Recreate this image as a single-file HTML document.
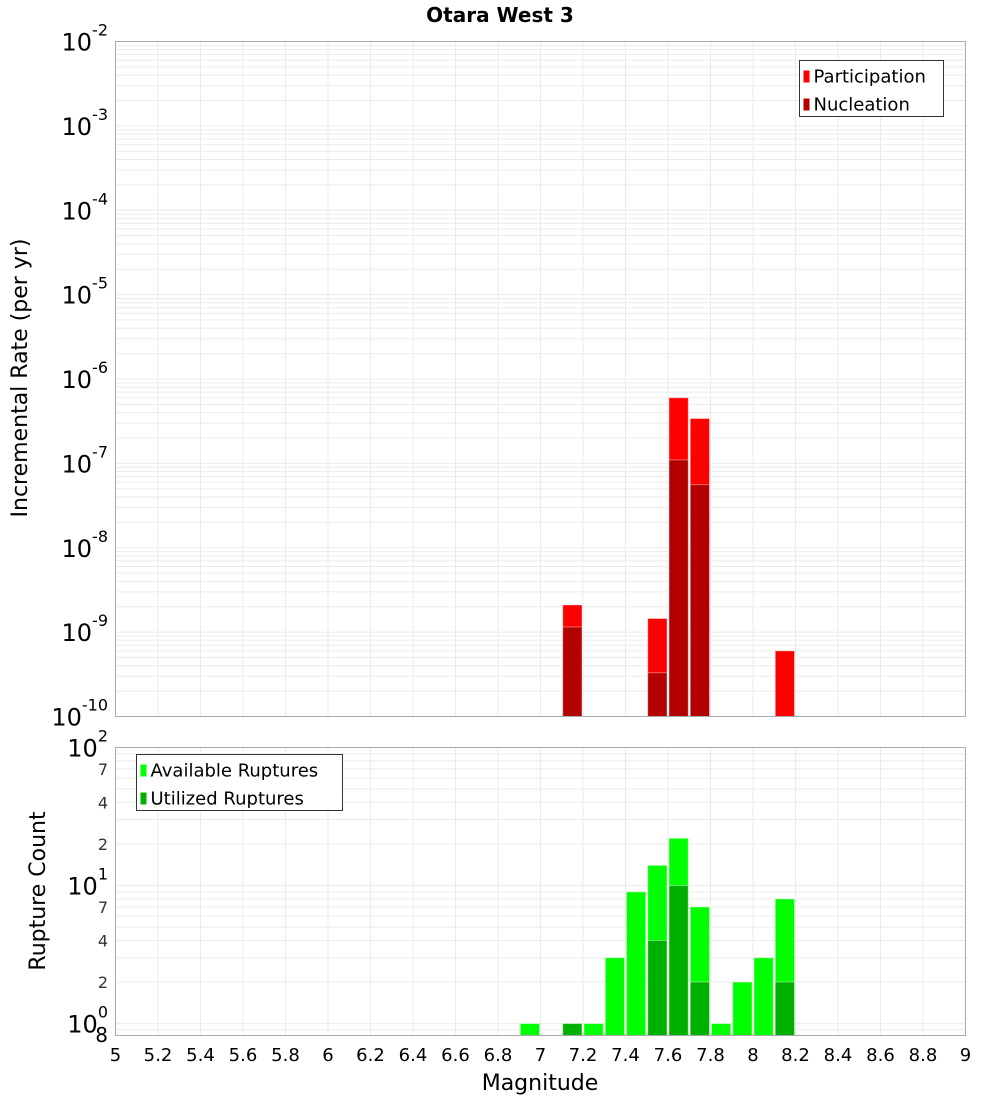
<!DOCTYPE html>
<html><head><meta charset="utf-8"><style>
body{margin:0;background:#fff}
svg{display:block;font-family:"DejaVu Sans","Liberation Sans",sans-serif}
</style></head><body>
<svg id="c" width="1000" height="1100" viewBox="0 0 1000 1100">
<text x="500" y="22" text-anchor="middle" font-size="20" font-weight="bold">Otara West 3</text>
<g id="top"></g>
<g id="bot"></g>
<text transform="translate(27,378) rotate(-90)" text-anchor="middle" font-size="22">Incremental Rate (per yr)</text>
<text transform="translate(45,891) rotate(-90)" text-anchor="middle" font-size="22">Rupture Count</text>
<text x="540" y="1090" text-anchor="middle" font-size="22">Magnitude</text>
</svg>
<script>
const partMags=[7.15,7.55,7.65,7.75,8.15];
const partVals=[2.1e-9,1.45e-9,6e-7,3.4e-7,6e-10];
const nuclMags=[7.15,7.55,7.65,7.75];
const nuclVals=[1.15e-9,3.3e-10,1.1e-7,5.6e-8];
const availMags=[6.95,7.15,7.25,7.35,7.45,7.55,7.65,7.75,7.85,7.95,8.05,8.15];
const availVals=[1,1,1,3,9,14,22,7,1,2,3,8];
const usedMags=[7.15,7.55,7.65,7.75,8.15];
const usedVals=[1,4,10,2,2];
const xTicks=[5,5.2,5.4,5.6,5.8,6,6.2,6.4,6.6,6.8,7,7.2,7.4,7.6,7.8,8,8.2,8.4,8.6,8.8,9];
const xTickLabels=["5","5.2","5.4","5.6","5.8","6","6.2","6.4","6.6","6.8","7","7.2","7.4","7.6","7.8","8","8.2","8.4","8.6","8.8","9"];
const topDecades=[-2,-3,-4,-5,-6,-7,-8,-9,-10];
const botMinorLabels=[2,4,7,20,40,70];

const NS="http://www.w3.org/2000/svg";
const L=115.5,R=965.5;
const X=m=>L+(m-5)/(9-5)*(R-L);
const T0=41.5,T1=716.5;
const yTop=v=>T0+(-2-Math.log10(v))/8*(T1-T0);
const B0=747.5,B1=1035.5,bMin=0.82;
const yBot=v=>B0+(2-Math.log10(v))/(2-Math.log10(bMin))*(B1-B0);
function mk(p,tag,a,txt){const e=document.createElementNS(NS,tag);for(const k in a)e.setAttribute(k,a[k]);if(txt!==undefined)e.textContent=txt;p.appendChild(e);return e;}
const gTop=document.getElementById('top'),gBot=document.getElementById('bot');

function frame(g,y0,y1,yfn,lo,hi){
  mk(g,'rect',{x:L,y:y0,width:R-L,height:y1-y0,fill:'#fff'});
  for(const t of xTicks){const l=mk(g,'line',{x1:X(t),x2:X(t),y1:y0,y2:y1,stroke:'#ebebeb','stroke-width':1});
    
    }
  for(let d=lo;d<hi;d++)for(let k=1;k<10;k++){const v=k*Math.pow(10,d);const y=yfn(v);if(y<y0-0.5||y>y1+0.5)continue;
    const l=mk(g,'line',{x1:L,x2:R,y1:y,y2:y,stroke:'#ebebeb','stroke-width':1});
    
    }
}
frame(gTop,T0,T1,yTop,-10,-1);
frame(gBot,B0,B1,yBot,-1,2);

function bars(g,mags,vals,yfn,base,col,name){
  mags.forEach((m,i)=>{const x0=X(m-0.05)+1,x1=X(m+0.05)-1;const y=yfn(vals[i]);
    const r=mk(g,'rect',{x:x0,y:y,width:x1-x0,height:base-y,fill:col,stroke:'rgba(255,255,255,0.4)','stroke-width':1});
    
    });
}
bars(gTop,partMags,partVals,yTop,T1,'#ff0000','participation-bar');
bars(gTop,nuclMags,nuclVals,yTop,T1,'#b30000','nucleation-bar');
bars(gBot,availMags,availVals,yBot,B1,'#00ff00','available-bar');
bars(gBot,usedMags,usedVals,yBot,B1,'#00b000','utilized-bar');

mk(gTop,'rect',{x:L,y:T0,width:R-L,height:T1-T0,fill:'none',stroke:'#aaa','stroke-width':1});
mk(gBot,'rect',{x:L,y:B0,width:R-L,height:B1-B0,fill:'none',stroke:'#aaa','stroke-width':1});

function decLabel(g,y,exp,name){
  const t=mk(g,'text',{x:108,y:y+9,'text-anchor':'end','font-size':24});
  
  
  t.appendChild(document.createTextNode('10'));
  mk(t,'tspan',{dy:-15,'font-size':16},String(exp));
}
topDecades.forEach(d=>decLabel(gTop,yTop(Math.pow(10,d)),d,'y-tick-label-rate'));
[2,1,0].forEach(d=>decLabel(gBot,yBot(Math.pow(10,d)),d,'y-tick-label-count'));
botMinorLabels.forEach(v=>{const t=mk(gBot,'text',{x:108,y:yBot(v)+6,'text-anchor':'end','font-size':16,fill:'#333'},String(v<10?v:v/10));
  
  });
{const t=mk(gBot,'text',{x:108,y:1042,'text-anchor':'end','font-size':20},'8');
 
 }
xTicks.forEach((t,i)=>{const e=mk(gBot,'text',{x:X(t),y:1061,'text-anchor':'middle','font-size':18},xTickLabels[i]);
  
  });

function legend(g,x,y,w,items,name){
  const lg=mk(g,'g',{});
  
  
  mk(lg,'rect',{x:x,y:y,width:w,height:56,fill:'#fff',stroke:'#333','stroke-width':1});
  items.forEach((it,i)=>{mk(lg,'rect',{x:x+4,y:y+10+i*28,width:6,height:12,fill:it[1]});
    const t=mk(lg,'text',{x:x+14,y:y+22+i*28,'font-size':18},it[0]);
    
    });
}
legend(gTop,799.5,60.5,144,[['Participation','#ff0000'],['Nucleation','#b30000']],'rate-legend');
legend(gBot,136.5,754.5,206,[['Available Ruptures','#00ff00'],['Utilized Ruptures','#00b000']],'count-legend');
</script>
</body></html>
